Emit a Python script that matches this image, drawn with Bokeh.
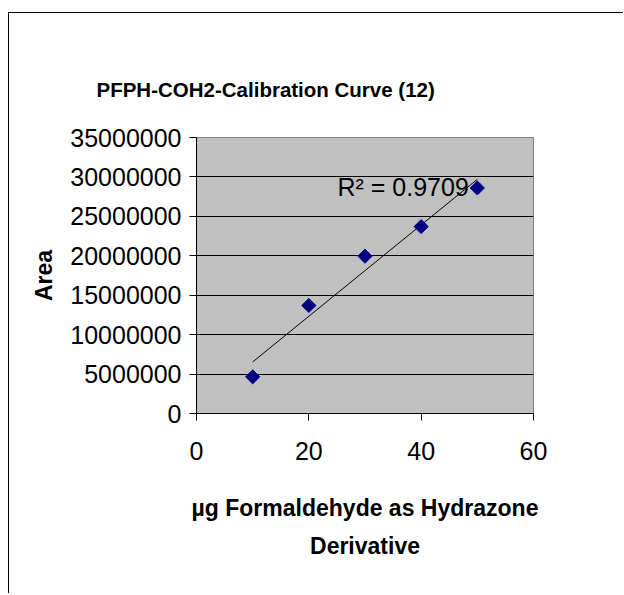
import numpy as np
from bokeh.plotting import figure
from bokeh.models import FixedTicker, PrintfTickFormatter, Range1d, Label
from bokeh.embed import file_html
from bokeh.resources import INLINE

# Data
x_ug = [10, 20, 30, 40, 50]
area = [4650000, 13700000, 19950000, 23700000, 28600000]
x_ticks = [0, 20, 40, 60]
y_ticks = [0, 5000000, 10000000, 15000000, 20000000, 25000000, 30000000, 35000000]
r2_text = "R\u00b2 = 0.9709"
title_text = "PFPH-COH2-Calibration Curve (12)"
x_label = "\u00b5g Formaldehyde as Hydrazone\nDerivative"
y_label = "Area"

FONT = "Liberation Sans"

p = figure(width=615, height=581, output_backend="svg", toolbar_location=None,
           x_range=Range1d(0, 60), y_range=Range1d(0, 35000000),
           min_border_left=187, min_border_right=91, min_border_top=124, min_border_bottom=181)
p.styles = {"margin-top": "12px", "margin-left": "8px",
            "border-top": "1px solid black", "border-left": "1px solid black"}

p.background_fill_color = "#C0C0C0"
p.border_fill_color = "white"
p.outline_line_color = "#808080"
p.outline_line_width = 1

# Title
p.title.text = title_text
p.title.text_font = FONT
p.title.text_font_size = "20.5px"
p.title.text_font_style = "bold"
p.title.text_color = "black"
p.title.align = "left"
p.title.offset = -100
p.title.standoff = 73

# Grid
p.xgrid.grid_line_color = None
p.ygrid.grid_line_color = "black"
p.ygrid.grid_line_width = 1
p.ygrid.ticker = FixedTicker(ticks=y_ticks)

# Axes
for ax in (p.xaxis[0], p.yaxis[0]):
    ax.axis_line_color = "black"
    ax.major_tick_line_color = "black"
    ax.major_tick_in = 0
    ax.major_tick_out = 7
    ax.minor_tick_line_color = None
    ax.major_label_text_font = FONT
    ax.major_label_text_font_size = "25px"
    ax.major_label_text_color = "black"
    ax.axis_label_text_font = FONT
    ax.axis_label_text_font_style = "bold"
    ax.axis_label_text_color = "black"

p.xaxis[0].ticker = FixedTicker(ticks=x_ticks)
p.xaxis[0].major_label_standoff = 21
p.xaxis[0].axis_label = x_label
p.xaxis[0].axis_label_text_font_size = "23px"
p.xaxis[0].axis_label_standoff = 32
p.xaxis[0].axis_label_text_line_height = 1.47

p.yaxis[0].ticker = FixedTicker(ticks=y_ticks)
p.yaxis[0].formatter = PrintfTickFormatter(format="%d")
p.yaxis[0].major_label_standoff = 8
p.yaxis[0].axis_label = y_label
p.yaxis[0].axis_label_text_font_size = "23px"
p.yaxis[0].axis_label_standoff = 10

# Linear trend line (least squares fit of the data)
slope, intercept = np.polyfit(np.array(x_ug, dtype=float), np.array(area, dtype=float), 1)
xs = [min(x_ug), max(x_ug)]
ys = [slope * v + intercept for v in xs]
p.line(xs, ys, line_color="black", line_width=1)

# Data points (diamonds)
p.scatter(x_ug, area, marker="square", angle=np.pi / 4, size=10,
          fill_color="#000080", line_color="#000080")

# R^2 label
p.add_layout(Label(x=25.1, y=28660000, text=r2_text, text_font=FONT,
                   text_font_size="25px", text_color="black", text_baseline="alphabetic"))

open("out.html", "w").write(file_html(p, INLINE))
